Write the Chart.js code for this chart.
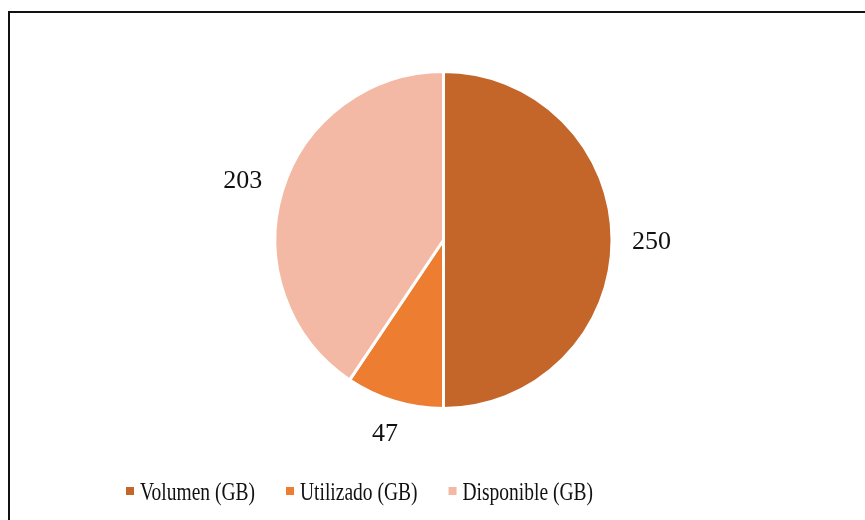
<!DOCTYPE html>
<html>
<head>
<meta charset="utf-8">
<script src="https://cdn.jsdelivr.net/npm/chart.js@4/dist/chart.umd.min.js"></script>
<style>
  html, body { margin: 0; padding: 0; background: #fff; }
  #wrap { position: relative; width: 865px; height: 520px; overflow: hidden; }
  #frame { position: absolute; left: 8px; top: 11px; width: 900px; height: 600px;
           border-left: 2px solid #111; border-top: 2px solid #111; }
  #chart { position: absolute; left: 0; top: 0; }
</style>
</head>
<body>
<div id="wrap">
  <div id="frame"></div>
  <canvas id="chart" width="865" height="520"></canvas>
</div>
<script>
// Data
const categories = ['Volumen (GB)', 'Utilizado (GB)', 'Disponible (GB)'];
const values = [250, 47, 203];
const colors = ['#C4652A', '#ED7D31', '#F4B9A5'];

const FONT = '"Liberation Serif", "Times New Roman", serif';

// Value labels outside each slice, kept a fixed gap from the rim
const outsideLabels = {
  id: 'outsideLabels',
  afterDatasetsDraw(chart) {
    const ctx = chart.ctx;
    const meta = chart.getDatasetMeta(0);
    ctx.save();
    ctx.font = '26px ' + FONT;
    ctx.fillStyle = '#111';
    ctx.textAlign = 'center';
    ctx.textBaseline = 'middle';
    meta.data.forEach((arc, i) => {
      const p = arc.getProps(['x', 'y', 'startAngle', 'endAngle', 'outerRadius'], true);
      const mid = (p.startAngle + p.endAngle) / 2;
      const txt = String(values[i]);
      const hw = ctx.measureText(txt).width / 2;
      const hh = 9.5;
      const cos = Math.cos(mid), sin = Math.sin(mid);
      const d = p.outerRadius + 20 + Math.abs(cos) * hw + Math.abs(sin) * hh;
      ctx.fillText(txt, p.x + cos * d, p.y + sin * d + 2);
    });
    ctx.restore();
  }
};

// Legend drawn by hand: the reference uses tall, condensed type
const bottomLegend = {
  id: 'bottomLegend',
  afterDraw(chart) {
    const ctx = chart.ctx;
    const squeeze = 0.75;
    let x = 126;
    const baseline = 500;
    ctx.save();
    ctx.font = '26px ' + FONT;
    ctx.textBaseline = 'alphabetic';
    categories.forEach((name, i) => {
      ctx.fillStyle = colors[i];
      ctx.fillRect(x, 487, 8, 8);
      x += 8 + 6;
      const w = ctx.measureText(name).width * squeeze;
      ctx.save();
      ctx.translate(x, baseline);
      ctx.scale(squeeze, 1);
      ctx.fillStyle = '#111';
      ctx.fillText(name, 0, 0);
      ctx.restore();
      x += w + 31;
    });
    ctx.restore();
  }
};

new Chart(document.getElementById('chart'), {
  type: 'pie',
  data: {
    labels: categories,
    datasets: [{
      data: values,
      backgroundColor: colors,
      borderColor: '#fff',
      borderWidth: 3
    }]
  },
  options: {
    responsive: false,
    animation: false,
    layout: { padding: { left: 116, right: 94, top: 70, bottom: 110 } },
    plugins: {
      tooltip: { enabled: false },
      legend: { display: false }
    }
  },
  plugins: [outsideLabels, bottomLegend]
});
</script>
</body>
</html>
